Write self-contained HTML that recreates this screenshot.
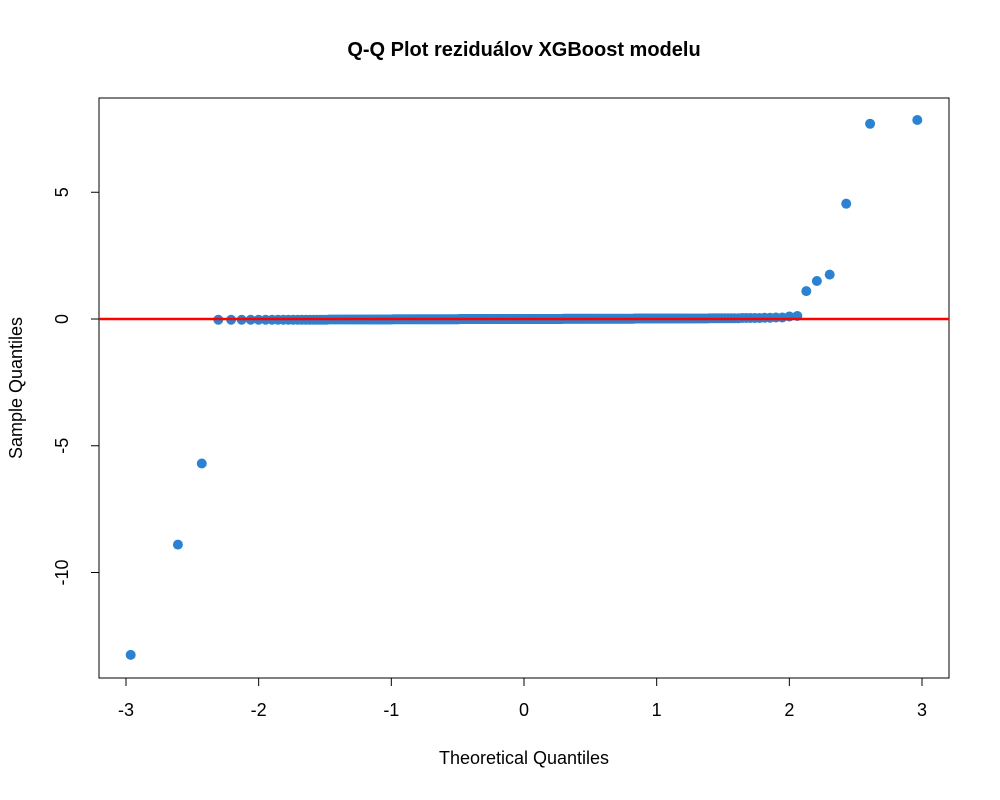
<!DOCTYPE html>
<html><head><meta charset="utf-8"><style>
body{margin:0;background:#fff;}
svg{display:block;font-family:"Liberation Sans",Arial,sans-serif;}
</style></head><body>
<svg id="chart" width="1000" height="800">
<text x="524" y="56" text-anchor="middle" font-size="20" font-weight="bold">Q-Q Plot reziduálov XGBoost modelu</text>
<rect x="99" y="98" width="850" height="580" fill="none" stroke="#000" stroke-width="1"/>
<g id="xaxis"></g>
<g id="yaxis"></g>
<g id="pts"></g>
<g id="ref"></g>
<text x="524" y="764" text-anchor="middle" font-size="18">Theoretical Quantiles</text>
<text x="22" y="388" text-anchor="middle" font-size="18" transform="rotate(-90 22 388)">Sample Quantiles</text>
</svg>
<script>
const xTicks = [-3,-2,-1,0,1,2,3];
const yTicks = [-10,-5,0,5];
const lowTail = [-13.25,-8.9,-5.7];
const midValues = [
-0.03,-0.03,-0.03,-0.03,-0.03,-0.03,-0.03,-0.03,-0.03,-0.03,-0.03,-0.03,-0.03,-0.03,-0.03,-0.03,-0.03,-0.03,-0.03,-0.03,
-0.02,-0.02,-0.02,-0.02,-0.02,-0.02,-0.02,-0.02,-0.02,-0.02,-0.02,-0.02,-0.02,-0.02,-0.02,-0.02,-0.02,-0.02,-0.02,-0.02,
-0.02,-0.02,-0.02,-0.02,-0.02,-0.02,-0.02,-0.02,-0.02,-0.02,-0.01,-0.01,-0.01,-0.01,-0.01,-0.01,-0.01,-0.01,-0.01,-0.01,
-0.01,-0.01,-0.01,-0.01,-0.01,-0.01,-0.01,-0.01,-0.01,-0.01,-0.01,-0.01,-0.01,-0.01,-0.01,-0.01,-0.01,-0.01,-0.01,-0.01,
-0.01,-0.01,-0.01,-0.01,-0.01,-0.01,-0.01,-0.01,-0.01,-0.01,-0.01,-0.01,-0.01,-0.01,-0.01,-0.01,-0.01,-0.01,-0.01,-0.01,
0,0,0,0,0,0,0,0,0,0,0,0,0,0,0,0,0,0,0,0,
0,0,0,0,0,0,0,0,0,0,0,0,0,0,0,0,0,0,0,0,
0,0,0,0,0,0,0,0,0,0,0,0,0,0,0,0,0,0,0,0,
0,0,0,0,0,0,0,0,0,0,0,0,0,0,0,0,0,0,0,0,
0,0,0,0,0,0,0,0,0,0,0,0,0,0,0,0,0,0,0,0,
0.01,0.01,0.01,0.01,0.01,0.01,0.01,0.01,0.01,0.01,0.01,0.01,0.01,0.01,0.01,0.01,0.01,0.01,0.01,0.01,
0.01,0.01,0.01,0.01,0.01,0.01,0.01,0.01,0.01,0.01,0.01,0.01,0.01,0.01,0.01,0.01,0.01,0.01,0.01,0.01,
0.01,0.01,0.01,0.01,0.01,0.01,0.01,0.01,0.01,0.01,0.01,0.01,0.01,0.01,0.01,0.01,0.01,0.01,0.01,0.01,
0.02,0.02,0.02,0.02,0.02,0.02,0.02,0.02,0.02,0.02,0.02,0.02,0.02,0.02,0.02,0.02,0.02,0.02,0.02,0.02,
0.02,0.02,0.02,0.02,0.02,0.02,0.02,0.02,0.02,0.02,0.02,0.02,0.02,0.02,0.02,0.02,0.02,0.02,0.02,0.02,
0.03,0.03,0.03,0.03,0.03,0.03,0.03,0.03,0.03,0.03,0.04,0.04,0.04,0.04,0.04,0.05,0.05,0.06,0.06
];
const highTail = [0.1,0.12,1.1,1.5,1.75,4.55,7.7,7.85];
const samples = lowTail.concat(midValues, highTail);

const NS='http://www.w3.org/2000/svg';
const X0=99,X1=949,Y0=98,Y1=678;
const xs=v=>524+v*132.67;
const ys=v=>319-v*25.35;
function mk(tag,attrs,parent){const e=document.createElementNS(NS,tag);for(const k in attrs)e.setAttribute(k,attrs[k]);parent.appendChild(e);return e;}
function qnorm(p){
 const a=[-3.969683028665376e+01,2.209460984245205e+02,-2.759285104469687e+02,1.383577518672690e+02,-3.066479806614716e+01,2.506628277459239e+00];
 const b=[-5.447609879822406e+01,1.615858368580409e+02,-1.556989798598866e+02,6.680131188771972e+01,-1.328068155288572e+01];
 const c=[-7.784894002430293e-03,-3.223964580411365e-01,-2.400758277161838e+00,-2.549732539343734e+00,4.374664141464968e+00,2.938163982698783e+00];
 const d=[7.784695709041462e-03,3.224671290700398e-01,2.445134137142996e+00,3.754408661907416e+00];
 const pl=0.02425;let q,r;
 if(p<pl){q=Math.sqrt(-2*Math.log(p));return (((((c[0]*q+c[1])*q+c[2])*q+c[3])*q+c[4])*q+c[5])/((((d[0]*q+d[1])*q+d[2])*q+d[3])*q+1);}
 if(p>1-pl){q=Math.sqrt(-2*Math.log(1-p));return -(((((c[0]*q+c[1])*q+c[2])*q+c[3])*q+c[4])*q+c[5])/((((d[0]*q+d[1])*q+d[2])*q+d[3])*q+1);}
 q=p-0.5;r=q*q;return (((((a[0]*r+a[1])*r+a[2])*r+a[3])*r+a[4])*r+a[5])*q/(((((b[0]*r+b[1])*r+b[2])*r+b[3])*r+b[4])*r+1);
}
const xa=document.getElementById('xaxis');
mk('line',{x1:xs(xTicks[0]),x2:xs(xTicks[xTicks.length-1]),y1:Y1,y2:Y1,stroke:'#000'},xa);
xTicks.forEach(t=>{
 const l=mk('line',{x1:xs(t),x2:xs(t),y1:Y1,y2:Y1+8,stroke:'#000'},xa);
 
 
 const tx=mk('text',{x:xs(t),y:Y1+38,'text-anchor':'middle','font-size':'18'},xa);tx.textContent=t;
 
 
});
const ya=document.getElementById('yaxis');
mk('line',{x1:X0,x2:X0,y1:ys(yTicks[0]),y2:ys(yTicks[yTicks.length-1]),stroke:'#000'},ya);
yTicks.forEach(t=>{
 const l=mk('line',{x1:X0-8,x2:X0,y1:ys(t),y2:ys(t),stroke:'#000'},ya);
 
 
 const tx=mk('text',{x:0,y:0,'text-anchor':'middle','font-size':'18',transform:`translate(${X0-31},${ys(t)}) rotate(-90)`},ya);tx.textContent=t;
 
 
});
const sorted=samples.slice().sort((a,b)=>a-b);
const n=sorted.length;
const pg=document.getElementById('pts');
sorted.forEach((v,i)=>{
 const q=qnorm((i+1-0.5)/n);
 const c=mk('circle',{cx:xs(q),cy:ys(v),r:5,fill:'#2b82d2'},pg);
 
 
});
mk('line',{x1:X0,x2:X1,y1:ys(0),y2:ys(0),stroke:'#ff0000','stroke-width':2.5},document.getElementById('ref'));
</script>
</body></html>
